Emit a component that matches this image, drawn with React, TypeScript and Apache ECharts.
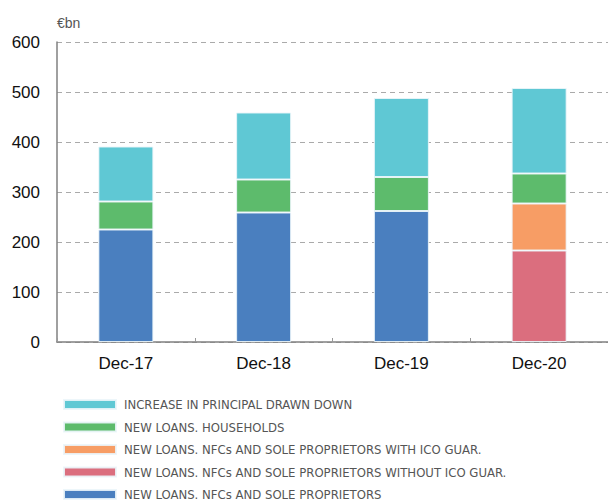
import React, { useEffect, useRef } from "react";
import * as echarts from "echarts";

const categories = ["Dec-17", "Dec-18", "Dec-19", "Dec-20"];

// €bn per component, stacked bottom to top
const nfcLoans = [225, 259, 262, null];
const nfcWithoutIco = [null, null, null, 183];
const nfcWithIco = [null, null, null, 94];
const householdLoans = [56, 66, 68, 60];
const principalIncrease = [110, 134, 158, 171];

const yTicks = { min: 0, max: 600, interval: 100 };

const names = {
  principal: "INCREASE IN PRINCIPAL DRAWN DOWN",
  households: "NEW LOANS. HOUSEHOLDS",
  withIco: "NEW LOANS. NFCs AND SOLE PROPRIETORS WITH ICO GUAR.",
  withoutIco: "NEW LOANS. NFCs AND SOLE PROPRIETORS WITHOUT ICO GUAR.",
  nfc: "NEW LOANS. NFCs AND SOLE PROPRIETORS",
};

const colors = {
  principal: "#5fc8d4",
  households: "#5dbb6c",
  withIco: "#f79d65",
  withoutIco: "#db6e7e",
  nfc: "#4a7fbf",
};

export default function App() {
  const ref = useRef<HTMLDivElement>(null);

  useEffect(() => {
    document.body.style.margin = "0";
    if (!ref.current) return;
    const chart = echarts.init(ref.current, undefined, { renderer: "svg" });

    const bar = (key: keyof typeof names, data: (number | null)[]) => ({
      name: names[key],
      type: "bar",
      stack: "total",
      barWidth: 55,
      data,
      itemStyle: {
        color: colors[key],
        borderColor: "rgba(235,245,250,0.9)",
        borderWidth: 1,
      },
    });

    chart.setOption({
      animation: false,
      grid: { left: 57, top: 42, width: 560, height: 300 },
      graphic: [
        {
          type: "text",
          left: 57,
          top: 16,
          style: {
            text: "€bn",
            fill: "#555",
            font: "14px 'Liberation Sans', Arial, sans-serif",
          },
        },
      ],
      legend: {
        orient: "vertical",
        left: 63,
        top: 398,
        padding: 0,
        itemWidth: 52,
        itemHeight: 9,
        itemGap: 9.5,
        icon: "rect",
        data: [
          names.principal,
          names.households,
          names.withIco,
          names.withoutIco,
          names.nfc,
        ],
        textStyle: {
          color: "#555",
          fontSize: 13,
          fontFamily: "'Liberation Sans Narrow', 'DejaVu Sans Condensed', sans-serif",
          padding: [0, 0, 0, 3],
        },
      },
      xAxis: {
        type: "category",
        data: categories,
        axisLine: { lineStyle: { color: "#808080", width: 1.5 } },
        axisTick: {
          show: true,
          inside: true,
          length: 4,
          lineStyle: { color: "#999" },
        },
        axisLabel: {
          color: "#111",
          fontSize: 17,
          fontFamily: "'Liberation Sans', Arial, sans-serif",
          margin: 13,
        },
      },
      yAxis: {
        type: "value",
        min: yTicks.min,
        max: yTicks.max,
        interval: yTicks.interval,
        axisLine: { show: true, lineStyle: { color: "#808080", width: 1.5 } },
        axisTick: { show: false },
        axisLabel: {
          color: "#111",
          fontSize: 17,
          fontFamily: "'Liberation Sans', Arial, sans-serif",
          margin: 17,
        },
        splitLine: {
          lineStyle: { color: "#aaa", type: [5, 4], width: 1 },
        },
      },
      series: [
        bar("nfc", nfcLoans),
        bar("withoutIco", nfcWithoutIco),
        bar("withIco", nfcWithIco),
        bar("households", householdLoans),
        bar("principal", principalIncrease),
      ],
    });

    return () => chart.dispose();
  }, []);

  return <div ref={ref} style={{ width: 608, height: 530 }} />;
}
